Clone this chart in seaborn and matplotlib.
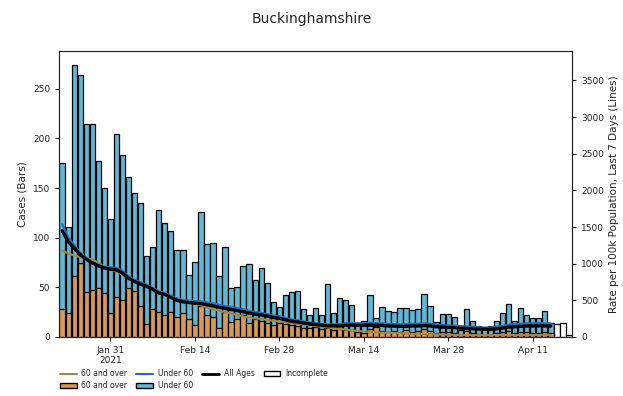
import numpy as np
import pandas as pd
import matplotlib
matplotlib.use('Agg')
import matplotlib.pyplot as plt
from matplotlib.lines import Line2D
from matplotlib.patches import Patch
import seaborn as sns

# daily cases, Jan 23 .. Apr 17 2021 (day 0 = Jan 23)
total_cases = [175, 111, 274, 264, 215, 215, 177, 150, 119, 204, 183, 161, 145, 135, 82, 91,
               128, 115, 107, 88, 88, 62, 76, 126, 94, 95, 61, 91, 49, 50, 72, 74,
               57, 70, 54, 35, 30, 42, 45, 46, 28, 22, 29, 22, 53, 24, 39, 37,
               32, 14, 16, 42, 19, 30, 26, 25, 29, 29, 27, 28, 43, 31, 15, 23,
               23, 20, 7, 28, 16, 11, 8, 11, 16, 24, 33, 16, 29, 22, 19, 19,
               26, 14, 13, 14, 2]
over60_cases = [28, 24, 61, 75, 45, 47, 49, 44, 24, 40, 37, 49, 46, 31, 13, 28,
                25, 22, 25, 20, 24, 18, 12, 31, 22, 20, 9, 25, 15, 18, 22, 14,
                18, 16, 14, 12, 14, 13, 12, 11, 9, 9, 10, 8, 9, 7, 8, 7,
                7, 5, 4, 8, 10, 6, 5, 6, 5, 7, 5, 6, 8, 6, 4, 5,
                5, 4, 2, 6, 4, 3, 2, 3, 4, 5, 6, 4, 5, 5, 4, 4,
                5, 4, 0, 0, 0]
n_incomplete = 3

# 7-day rates per 100k (lines), complete days only
rate_all = [1450, 1300, 1210, 1120, 1060, 1010, 970, 940, 925, 915, 870, 800, 755, 720, 690, 650,
            600, 580, 540, 500, 480, 470, 462, 455, 440, 425, 405, 390, 375, 360, 345, 325,
            310, 300, 285, 265, 255, 235, 215, 205, 190, 178, 170, 160, 152, 152, 150, 160,
            162, 160, 158, 162, 160, 158, 150, 148, 145, 145, 150, 150, 155, 150, 140, 135,
            130, 128, 120, 118, 112, 108, 105, 105, 112, 122, 135, 140, 145, 150, 150, 152,
            150, 150]
rate_over60 = [1180, 1140, 1110, 1090, 1075, 1060, 1010, 960, 920, 890, 850, 800, 760, 720, 690, 660,
               620, 585, 555, 525, 500, 480, 455, 430, 405, 380, 360, 340, 320, 300, 280, 265,
               255, 245, 235, 220, 210, 200, 190, 180, 170, 160, 150, 140, 130, 120, 110, 100,
               90, 82, 75, 70, 65, 60, 58, 55, 52, 48, 45, 42, 40, 38, 36, 34,
               32, 30, 28, 27, 26, 25, 25, 25, 25, 25, 25, 25, 26, 27, 28, 29,
               30, 30]
rate_under60 = [1540, 1360, 1250, 1150, 1080, 1020, 985, 960, 950, 945, 900, 825, 780, 745, 712, 670,
                620, 600, 565, 525, 505, 495, 490, 485, 470, 458, 438, 423, 408, 393, 378, 355,
                338, 328, 312, 292, 282, 260, 238, 227, 211, 198, 190, 180, 172, 174, 173, 185,
                188, 187, 186, 191, 189, 187, 178, 176, 173, 174, 180, 181, 187, 181, 170, 164,
                158, 156, 147, 145, 138, 133, 129, 129, 138, 151, 167, 173, 179, 185, 185, 188,
                185, 185]

tick_days = [8, 22, 36, 50, 64, 78]
tick_labels = ['Jan 31\n2021', 'Feb 14', 'Feb 28', 'Mar 14', 'Mar 28', 'Apr 11']

c_over = '#dc9b4c'
c_under = '#5bbad8'
c_line_over = '#a8863a'
c_line_under = '#1f6fc0'

n = len(total_cases)
bars = pd.DataFrame({'day': np.arange(n), 'total': total_cases, 'over60': over60_cases})
bars['status'] = ['complete'] * (n - n_incomplete) + ['incomplete'] * n_incomplete
m = len(rate_all)
lines = pd.DataFrame({'day': np.arange(m), 'all': rate_all,
                      'over60': rate_over60, 'under60': rate_under60})

sns.set_style('ticks')
plt.rcParams['font.family'] = ['DejaVu Sans']

fig = plt.figure(figsize=(6.23, 3.96), dpi=100)
ax = fig.add_axes([0.095, 0.149, 0.823, 0.722])

sns.barplot(data=bars, x='day', y='total', hue='status',
            palette={'complete': c_under, 'incomplete': 'white'},
            native_scale=True, dodge=False, width=0.9, saturation=1,
            edgecolor='black', linewidth=0.9, legend=False, ax=ax)
comp = bars[bars['status'] == 'complete']
sns.barplot(data=comp, x='day', y='over60', color=c_over,
            native_scale=True, width=0.9, saturation=1,
            edgecolor='black', linewidth=0.9, ax=ax)

ax.set_xlim(-0.5, 84.5)
ax.set_ylim(0, 288)
ax.set_yticks([0, 50, 100, 150, 200, 250])
ax.set_xticks(tick_days)
ax.set_xticklabels(tick_labels)
ax.set_xlabel('')
ax.set_ylabel('Cases (Bars)', fontsize=7.5)
ax.tick_params(labelsize=6.5, length=3)

ax2 = ax.twinx()
sns.lineplot(data=lines, x='day', y='over60', color=c_line_over, lw=1.6, ax=ax2)
sns.lineplot(data=lines, x='day', y='under60', color=c_line_under, lw=1.6, ax=ax2)
sns.lineplot(data=lines, x='day', y='all', color='black', lw=2.4, ax=ax2)
ax2.set_ylim(0, 3900)
ax2.set_yticks([0, 500, 1000, 1500, 2000, 2500, 3000, 3500])
ax2.set_ylabel('Rate per 100k Population, Last 7 Days (Lines)', fontsize=7.5)
ax2.tick_params(labelsize=6.5, length=3)
ax2.set_xlim(-0.5, 84.5)

fig.suptitle('Buckinghamshire', fontsize=10, y=0.97)

handles = [Line2D([], [], color=c_line_over, lw=1.5),
           Patch(facecolor=c_over, edgecolor='black'),
           Line2D([], [], color=c_line_under, lw=1.5),
           Patch(facecolor=c_under, edgecolor='black'),
           Line2D([], [], color='black', lw=2),
           Patch(facecolor='white', edgecolor='black')]
labels = ['60 and over', '60 and over', 'Under 60', 'Under 60', 'All Ages', 'Incomplete']
fig.legend(handles, labels, loc='upper left', bbox_to_anchor=(0.085, 0.085),
           ncol=4, frameon=False, fontsize=5.5, handlelength=2.2,
           columnspacing=1.2, handletextpad=0.6, labelspacing=0.4)

fig.savefig('out.png', dpi=100)
